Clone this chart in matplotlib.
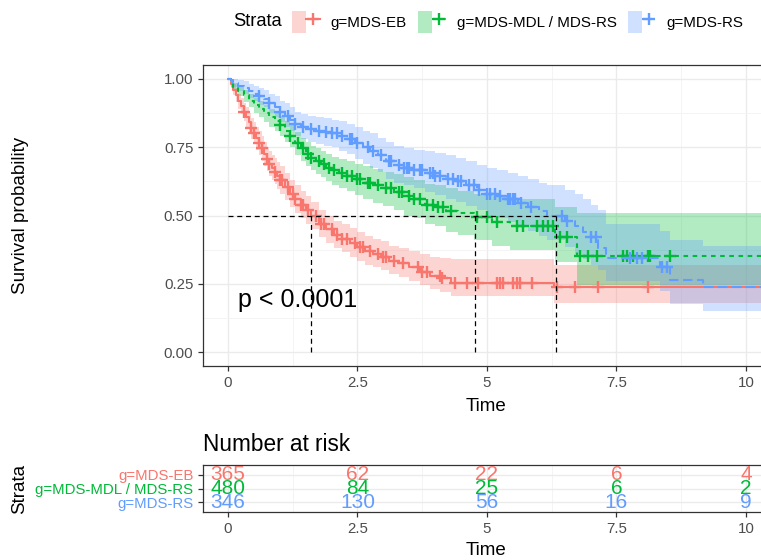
import numpy as np
import matplotlib.pyplot as plt
from matplotlib.patches import Patch
from matplotlib.lines import Line2D
from matplotlib.legend_handler import HandlerTuple

plt.rcParams['font.family'] = ['Liberation Sans', 'DejaVu Sans']

strata = ["g=MDS-EB", "g=MDS-MDL / MDS-RS", "g=MDS-RS"]
colors = ["#F8766D", "#00BA38", "#619CFF"]
t_end = 10.5

# --- KM estimates (time, survival, lower, upper) ---
eb_time = [0, 0.05, 0.1, 0.15, 0.2, 0.25, 0.3, 0.35, 0.4, 0.45, 0.5, 0.55, 0.6, 0.65, 0.7,
           0.75, 0.8, 0.85, 0.9, 0.95, 1.0, 1.1, 1.2, 1.3, 1.4, 1.5, 1.6, 1.75, 1.9, 2.05,
           2.2, 2.35, 2.5, 2.65, 2.8, 2.95, 3.1, 3.3, 3.5, 3.7, 3.9, 4.1, 4.3, 6.3]
eb_surv = [1.0, 0.98, 0.96, 0.94, 0.92, 0.90, 0.88, 0.86, 0.84, 0.82, 0.80, 0.782, 0.765,
           0.745, 0.725, 0.707, 0.69, 0.675, 0.66, 0.645, 0.63, 0.605, 0.58, 0.56, 0.54,
           0.52, 0.50, 0.47, 0.45, 0.43, 0.415, 0.40, 0.385, 0.37, 0.36, 0.35, 0.335, 0.325,
           0.31, 0.295, 0.28, 0.27, 0.255, 0.237]
eb_low = [1.0, 0.965, 0.94, 0.915, 0.89, 0.87, 0.845, 0.825, 0.80, 0.78, 0.76, 0.74, 0.72,
          0.70, 0.68, 0.662, 0.645, 0.63, 0.615, 0.598, 0.58, 0.555, 0.53, 0.51, 0.49, 0.47,
          0.45, 0.42, 0.40, 0.38, 0.365, 0.35, 0.335, 0.32, 0.31, 0.30, 0.285, 0.275, 0.26,
          0.245, 0.23, 0.22, 0.205, 0.18]
eb_up = [1.0, 0.995, 0.98, 0.965, 0.945, 0.93, 0.91, 0.895, 0.875, 0.858, 0.84, 0.825, 0.81,
         0.79, 0.77, 0.752, 0.735, 0.722, 0.71, 0.695, 0.68, 0.655, 0.63, 0.61, 0.59, 0.57,
         0.55, 0.52, 0.50, 0.48, 0.47, 0.455, 0.44, 0.425, 0.415, 0.405, 0.39, 0.38, 0.37,
         0.36, 0.35, 0.345, 0.34, 0.32]
eb_cens = [0.3, 0.45, 0.5, 0.6, 0.65, 0.75, 0.8, 0.9, 1.0, 1.05, 1.15, 1.25, 1.3, 1.4, 1.45,
           1.55, 1.7, 1.8, 1.85, 2.0, 2.1, 2.2, 2.3, 2.45, 2.55, 2.6, 2.75, 2.9, 3.0, 3.05,
           3.2, 3.38, 3.67, 3.75, 3.85, 4.09, 4.13, 4.38, 4.61, 4.83, 5.19, 5.25, 5.31, 5.5,
           5.58, 5.64, 5.87, 6.35, 6.7, 7.14, 8.11]

mdl_time = [0, 0.05, 0.1, 0.2, 0.3, 0.4, 0.5, 0.6, 0.7, 0.8, 0.9, 1.0, 1.1, 1.2, 1.3, 1.4,
            1.5, 1.6, 1.7, 1.8, 1.9, 2.0, 2.15, 2.3, 2.45, 2.6, 2.8, 3.0, 3.2, 3.4, 3.6,
            3.8, 4.0, 4.2, 4.45, 4.75, 5.1, 5.45, 6.31, 6.73]
mdl_surv = [1.0, 0.985, 0.97, 0.955, 0.94, 0.92, 0.905, 0.89, 0.875, 0.86, 0.845, 0.83, 0.81,
            0.79, 0.765, 0.745, 0.725, 0.71, 0.70, 0.69, 0.675, 0.665, 0.655, 0.645, 0.635,
            0.62, 0.61, 0.60, 0.585, 0.57, 0.56, 0.54, 0.53, 0.515, 0.51, 0.495, 0.478,
            0.463, 0.423, 0.353]
mdl_low = [1.0, 0.97, 0.955, 0.935, 0.915, 0.895, 0.875, 0.86, 0.84, 0.825, 0.81, 0.79, 0.77,
           0.75, 0.72, 0.70, 0.68, 0.665, 0.65, 0.64, 0.625, 0.61, 0.60, 0.59, 0.575, 0.56,
           0.545, 0.535, 0.52, 0.50, 0.49, 0.47, 0.46, 0.44, 0.43, 0.41, 0.39, 0.375, 0.33,
           0.245]
mdl_up = [1.0, 0.995, 0.985, 0.975, 0.96, 0.945, 0.93, 0.92, 0.905, 0.89, 0.88, 0.865, 0.845,
          0.83, 0.805, 0.785, 0.77, 0.755, 0.745, 0.735, 0.725, 0.715, 0.705, 0.70, 0.69,
          0.68, 0.67, 0.66, 0.65, 0.64, 0.63, 0.615, 0.61, 0.60, 0.59, 0.58, 0.57, 0.56,
          0.53, 0.51]
mdl_cens = [1.0, 1.2, 1.35, 1.45, 1.55, 1.6, 1.75, 1.85, 1.95, 2.05, 2.2, 2.3, 2.4, 2.5, 2.55,
            2.7, 2.75, 2.9, 3.05, 3.15, 3.3, 3.35, 3.5, 3.6, 3.7, 3.85, 3.95, 4.05, 4.15,
            4.3, 4.8, 5.0, 5.2, 5.58, 5.7, 5.97, 6.08, 6.18, 6.27, 6.41, 6.54, 6.8, 6.95,
            7.12, 7.63, 7.7, 7.82, 8.11, 8.15, 8.53]

rs_time = [0, 0.05, 0.1, 0.2, 0.3, 0.4, 0.5, 0.6, 0.7, 0.8, 0.9, 1.0, 1.1, 1.2, 1.3, 1.4,
           1.55, 1.7, 1.85, 2.0, 2.15, 2.3, 2.45, 2.6, 2.75, 2.9, 3.05, 3.2, 3.4, 3.6, 3.8,
           4.0, 4.2, 4.4, 4.6, 4.8, 5.0, 5.2, 5.4, 5.6, 5.8, 6.0, 6.15, 6.5, 6.7, 6.85, 7.0,
           7.15, 7.3, 8.34, 8.53, 9.17]
rs_surv = [1.0, 0.995, 0.985, 0.975, 0.965, 0.955, 0.945, 0.935, 0.925, 0.91, 0.895, 0.88,
           0.865, 0.85, 0.835, 0.825, 0.815, 0.81, 0.805, 0.80, 0.79, 0.78, 0.765, 0.75,
           0.735, 0.72, 0.70, 0.685, 0.675, 0.665, 0.655, 0.645, 0.635, 0.625, 0.61, 0.595,
           0.58, 0.57, 0.56, 0.545, 0.53, 0.515, 0.50, 0.48, 0.46, 0.44, 0.42, 0.38, 0.345,
           0.313, 0.265, 0.237]
rs_low = [1.0, 0.985, 0.97, 0.955, 0.945, 0.93, 0.92, 0.905, 0.895, 0.875, 0.86, 0.84, 0.825,
          0.81, 0.79, 0.78, 0.77, 0.76, 0.755, 0.75, 0.735, 0.725, 0.705, 0.69, 0.675, 0.66,
          0.635, 0.62, 0.61, 0.60, 0.585, 0.575, 0.56, 0.55, 0.535, 0.52, 0.50, 0.49, 0.475,
          0.46, 0.445, 0.425, 0.41, 0.385, 0.36, 0.34, 0.32, 0.30, 0.26, 0.225, 0.175, 0.15]
rs_up = [1.0, 1.0, 1.0, 0.995, 0.99, 0.98, 0.975, 0.965, 0.96, 0.945, 0.935, 0.92, 0.91,
         0.895, 0.88, 0.87, 0.865, 0.86, 0.855, 0.85, 0.845, 0.835, 0.825, 0.81, 0.80, 0.785,
         0.77, 0.755, 0.745, 0.74, 0.735, 0.73, 0.72, 0.71, 0.70, 0.685, 0.675, 0.665, 0.655,
         0.645, 0.635, 0.62, 0.61, 0.595, 0.58, 0.56, 0.54, 0.52, 0.47, 0.445, 0.41, 0.39]
rs_cens = [0.6, 0.8, 1.0, 1.15, 1.3, 1.45, 1.6, 1.75, 1.9, 2.0, 2.1, 2.2, 2.35, 2.4, 2.5,
           2.7, 2.8, 2.95, 3.1, 3.15, 3.3, 3.4, 3.45, 3.5, 3.6, 3.7, 3.75, 3.9, 3.95, 4.0,
           4.1, 4.25, 4.35, 4.45, 4.5, 4.65, 4.75, 4.85, 5.0, 5.05, 5.15, 5.25, 5.4, 5.45,
           5.5, 5.55, 5.65, 5.85, 6.45, 6.55, 7.0, 7.1, 7.76, 7.9, 8.0, 8.38, 8.47]

medians = [1.6, 4.77, 6.33]

risk_ticks = [0, 2.5, 5, 7.5, 10]
risk_eb = [365, 62, 22, 6, 4]
risk_mdl = [480, 84, 25, 6, 2]
risk_rs = [346, 130, 56, 16, 9]

curves = [
    (eb_time, eb_surv, eb_low, eb_up, eb_cens),
    (mdl_time, mdl_surv, mdl_low, mdl_up, mdl_cens),
    (rs_time, rs_surv, rs_low, rs_up, rs_cens),
]
dash_styles = [(None, None), (2.2, 2.2), (4.5, 2.2)]

W, H = 761, 560


def box(l, t, r, b):
    return [l / W, 1 - b / H, (r - l) / W, (b - t) / H]


def style_axes(a):
    for s in a.spines.values():
        s.set_color('#333333')
        s.set_linewidth(0.9)
    a.tick_params(which='major', length=3.5, width=0.9, color='#333333',
                  labelcolor='#4D4D4D', labelsize=10.8)
    a.tick_params(which='minor', length=0)
    a.grid(which='major', color='#EBEBEB', lw=1.0)
    a.grid(which='minor', color='#F3F3F3', lw=0.6)
    a.set_axisbelow(True)


fig = plt.figure(figsize=(7.61, 5.60), dpi=100)
ax = fig.add_axes(box(203, 65, 763, 366))
axr = fig.add_axes(box(203, 465, 763, 512))

handles = []
for (t, s, lo, up, cens), col, dash in zip(curves, colors, dash_styles):
    t = np.append(t, t_end)
    s = np.append(s, s[-1])
    lo = np.append(lo, lo[-1])
    up = np.append(up, up[-1])
    ax.fill_between(t, lo, up, step='post', color=col, alpha=0.3, lw=0)
    line, = ax.plot(t, s, drawstyle='steps-post', color=col, lw=1.5)
    if dash[0] is not None:
        line.set_dashes(dash)
    idx = np.searchsorted(t, cens, side='right') - 1
    ax.plot(cens, s[idx], ls='none', marker='+', ms=8, mew=1.7, color=col)
    key_line = Line2D([], [], color=col, lw=1.5, marker='+', ms=8, mew=1.7)
    if dash[0] is not None:
        key_line.set_dashes(dash)
    handles.append((Patch(facecolor=col, alpha=0.3, lw=0), key_line))

# median survival guides
ax.plot([0, max(medians)], [0.5, 0.5], color='black', lw=0.9, dashes=(4, 3))
for m in medians:
    ax.plot([m, m], [0, 0.5], color='black', lw=0.9, dashes=(4, 3))

ax.text(0.19, 0.19, "p < 0.0001", fontsize=18, ha='left', va='center', color='black')

ax.set_xlim(-0.483, 10.33)
ax.set_ylim(-0.05, 1.05)
ax.set_xticks(risk_ticks)
ax.set_xticklabels(["0", "2.5", "5", "7.5", "10"])
ax.set_xticks([1.25, 3.75, 6.25, 8.75], minor=True)
ax.set_yticks([0, 0.25, 0.5, 0.75, 1.0])
ax.set_yticklabels(["0.00", "0.25", "0.50", "0.75", "1.00"])
ax.set_yticks([0.125, 0.375, 0.625, 0.875], minor=True)
style_axes(ax)
ax.set_xlabel("Time", fontsize=13.5)
ax.xaxis.set_label_coords(0.505, -0.106)
ax.set_ylabel("Survival probability", fontsize=13.5)
ax.yaxis.set_label_coords(-0.311, 0.5)

# legend
fig.text(233 / W, 1 - 22 / H, "Strata", fontsize=13.2, ha='left', va='center')
fig.legend(handles, strata, loc='center left', bbox_to_anchor=(286 / W, 1 - 22 / H),
           ncol=3, frameon=False, fontsize=10.9, handlelength=1.85, handleheight=1.85,
           handletextpad=0.7, columnspacing=0.75, borderaxespad=0,
           handler_map={tuple: HandlerTuple(ndivide=None, pad=0)})

# risk table
rows = [3, 2, 1]
for vals, col, r in zip([risk_eb, risk_mdl, risk_rs], colors, rows):
    for x, v in zip(risk_ticks, vals):
        axr.text(x, r, str(v), color=col, fontsize=15, ha='center', va='center')
axr.set_xlim(-0.483, 10.33)
axr.set_ylim(0.3, 3.7)
axr.set_xticks(risk_ticks)
axr.set_xticklabels(["0", "2.5", "5", "7.5", "10"])
axr.set_xticks([1.25, 3.75, 6.25, 8.75], minor=True)
axr.set_yticks(rows)
axr.set_yticklabels(strata)
style_axes(axr)
for lab, col in zip(axr.get_yticklabels(), colors):
    lab.set_color(col)
axr.set_xlabel("Time", fontsize=13.5)
axr.xaxis.set_label_coords(0.505, -0.638)
axr.set_ylabel("Strata", fontsize=13.5)
axr.yaxis.set_label_coords(-0.3125, 0.5)
axr.text(0, 1.43, "Number at risk", transform=axr.transAxes, fontsize=16.3,
         ha='left', va='center')

fig.savefig("out.png", dpi=100)
